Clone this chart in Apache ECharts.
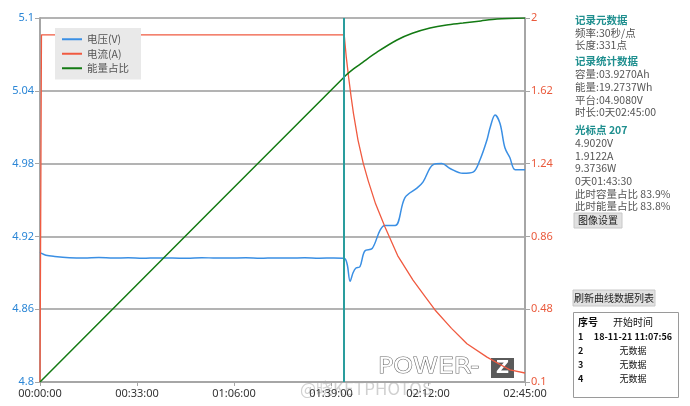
<!DOCTYPE html>
<html>
<head>
<meta charset="utf-8">
<script src="https://cdn.jsdelivr.net/npm/echarts@6/dist/echarts.min.js"></script>
<style>
  html, body { margin: 0; padding: 0; background: #fff; }
  #chart { width: 690px; height: 406px; }
</style>
</head>
<body>
<div id="chart"></div>
<script>
// time in seconds from start, 30 s/point record
var voltTimes = [0, 30, 120, 300, 600, 900, 1200, 1500, 1800, 2100, 2400, 2700, 3000, 3300, 3600, 3900, 4200, 4500, 4800, 5100, 5400, 5700, 6000, 6210,
  6270, 6330, 6390, 6450, 6530, 6630, 6780, 6940, 7040, 7250, 7450, 7700, 7820, 8020, 8200, 8370, 8630, 8840, 8980, 9120, 9190, 9290, 9390, 9490, 9590, 9700, 9900]
var voltValues = [4.907, 4.906, 4.9045, 4.9035, 4.9025, 4.9022, 4.9026, 4.9021, 4.9024, 4.9020, 4.9023, 4.9021, 4.9020, 4.9025, 4.9021, 4.9022, 4.9024, 4.9020, 4.9023, 4.9021, 4.9024, 4.9020, 4.9022, 4.9020,
  4.897, 4.883, 4.890, 4.894, 4.895, 4.908, 4.910, 4.925, 4.929, 4.929, 4.952, 4.960, 4.965, 4.979, 4.980, 4.976, 4.972, 4.973, 4.983, 4.999, 5.010, 5.020, 5.013, 4.993, 4.985, 4.975, 4.975]

var currTimes = [0, 30, 6210, 6250, 6300, 6350, 6400, 6491, 6600, 6700, 6850, 7042, 7300, 7614, 7850, 8063, 8400, 8715, 9124, 9400, 9594, 9900]
var currValues = [0.1, 1.912, 1.912, 1.80, 1.69, 1.59, 1.50, 1.363, 1.24, 1.15, 1.03, 0.909, 0.76, 0.632, 0.55, 0.476, 0.38, 0.30, 0.23, 0.19, 0.163, 0.147]

var energyTimes = [0, 6210, 6400, 6593, 6900, 7287, 7600, 7961, 8300, 8634, 9000, 9328, 9900]
var energyValues = [0, 83.8, 86.0, 87.9, 90.8, 93.96, 95.8, 97.25, 98.1, 98.6, 99.2, 99.7, 100]

var cursorTime = 6210
var xTicks = { min: 0, max: 9900, step: 1980 }

var seriesNames = ['电压(V)', '电流(A)', '能量占比']
var seriesColors = ['#3a8fe4', '#f05a40', '#137a13']

var panelLines = [
  ['记录元数据', 20, 'head'],
  ['频率:30秒/点', 33, 'body'],
  ['长度:331点', 45, 'body'],
  ['记录统计数据', 61, 'head'],
  ['容量:03.9270Ah', 74, 'body'],
  ['能量:19.2737Wh', 87, 'body'],
  ['平台:04.9080V', 100, 'body'],
  ['时长:0天02:45:00', 112, 'body'],
  ['光标点 207', 130, 'head'],
  ['4.9020V', 143, 'body'],
  ['1.9122A', 156, 'body'],
  ['9.3736W', 168, 'body'],
  ['0天01:43:30', 181, 'body'],
  ['此时容量占比 83.9%', 194, 'body'],
  ['此时能量占比 83.8%', 206, 'body']
]
var tableRows = [
  ['1', '18-11-21 11:07:56'],
  ['2', '无数据'],
  ['3', '无数据'],
  ['4', '无数据']
]

function zip(ts, vs) {
  return ts.map(function(t, i) { return [t, vs[i]] })
}
function pad(n) { return (n < 10 ? '0' : '') + n }
function fmtTime(s) {
  return pad(Math.floor(s / 3600)) + ':' + pad(Math.floor(s % 3600 / 60)) + ':' + pad(s % 60)
}
function fmtNum(v) { return String(parseFloat(v.toFixed(2))) }

var cjk = '"Noto Sans CJK SC", "Noto Sans", sans-serif'
var graphics = []

panelLines.forEach(function(l) {
  var head = l[2] === 'head'
  graphics.push({
    type: 'text', x: 575, y: l[1],
    style: { text: l[0], fill: head ? '#1f8f8f' : '#555', font: (head ? 'bold ' : '') + '10.5px ' + cjk, verticalAlign: 'middle' }
  })
})
// buttons
function button(x, y, w, h, label) {
  graphics.push({ type: 'rect', shape: { x: x, y: y, width: w, height: h }, style: { fill: '#e1e1e1', stroke: '#c8c8c8', lineWidth: 1 } })
  graphics.push({ type: 'text', x: x + w / 2, y: y + h / 2, style: { text: label, fill: '#222', font: '10px ' + cjk, align: 'center', verticalAlign: 'middle' } })
}
button(574, 213, 48, 15, '图像设置')
button(573, 290, 82, 16, '刷新曲线数据列表')
// table
graphics.push({ type: 'rect', shape: { x: 573.5, y: 312.5, width: 105, height: 85 }, style: { fill: '#fff', stroke: '#9a9a9a', lineWidth: 1 } })
graphics.push({ type: 'text', x: 578, y: 322, style: { text: '序号', fill: '#111', font: 'bold 10px ' + cjk, verticalAlign: 'middle' } })
graphics.push({ type: 'text', x: 633, y: 322, style: { text: '开始时间', fill: '#111', font: '10px ' + cjk, align: 'center', verticalAlign: 'middle' } })
tableRows.forEach(function(r, i) {
  var y = 337 + i * 14
  graphics.push({ type: 'text', x: 578, y: y, style: { text: r[0], fill: '#111', font: 'bold 9px ' + cjk, verticalAlign: 'middle' } })
  graphics.push({ type: 'text', x: 633, y: y, style: { text: r[1], fill: '#111', font: (i === 0 ? 'bold ' : '') + '9px ' + cjk, align: 'center', verticalAlign: 'middle' } })
})
// POWER-Z logo
graphics.push({ type: 'text', x: 378, y: 368, scaleX: 1.2, style: { text: 'POWER-', fill: '#fff', stroke: '#6a6a6a', lineWidth: 1, font: '21px "DejaVu Sans", sans-serif', verticalAlign: 'middle' } })
graphics.push({ type: 'rect', shape: { x: 491, y: 358, width: 23, height: 20 }, style: { fill: '#5a5a5a' } })
graphics.push({ type: 'text', x: 502.5, y: 368, style: { text: 'Z', fill: '#fff', font: 'bold 18px "DejaVu Sans", sans-serif', align: 'center', verticalAlign: 'middle' } })
// weibo watermark
graphics.push({ type: 'text', x: 300, y: 389, style: { text: '@晓KETPHOTOS', fill: 'rgba(150,150,150,0.45)', font: '17px ' + cjk, verticalAlign: 'middle' } })

var chart = echarts.init(document.getElementById('chart'))
chart.setOption({
  animation: false,
  backgroundColor: '#fff',
  grid: { left: 40, right: 165, top: 18, bottom: 24 },
  legend: {
    orient: 'vertical', left: 55, top: 28,
    backgroundColor: '#e9e9e9',
    padding: [6, 12, 6, 7],
    itemGap: 4, itemWidth: 20, itemHeight: 2,
    icon: 'rect',
    textStyle: { fontSize: 10.5, color: '#555', fontFamily: cjk },
    data: seriesNames
  },
  xAxis: {
    type: 'value', min: xTicks.min, max: xTicks.max, interval: xTicks.step,
    axisLine: { lineStyle: { color: '#a6a6a6', width: 2 } },
    axisTick: { lineStyle: { color: '#a6a6a6' }, length: 4 },
    splitLine: { show: false },
    axisLabel: { color: '#333', fontSize: 11, margin: 6, fontFamily: '"Noto Sans", sans-serif', formatter: fmtTime }
  },
  yAxis: [{
    type: 'value', position: 'left', min: 4.8, max: 5.1, interval: 0.06,
    axisLine: { show: true, lineStyle: { color: '#a6a6a6', width: 2 } },
    axisTick: { show: true, length: 5, lineStyle: { color: '#a6a6a6' } },
    splitLine: { lineStyle: { color: '#b3b3b3', width: 2 } },
    axisLabel: { color: '#2b86d6', fontSize: 11, margin: 6, fontFamily: '"Noto Sans", sans-serif', formatter: fmtNum }
  }, {
    type: 'value', position: 'right', min: 0.1, max: 2, interval: 0.38,
    axisLine: { show: true, lineStyle: { color: '#a6a6a6', width: 2 } },
    axisTick: { show: true, length: 5, lineStyle: { color: '#a6a6a6' } },
    splitLine: { show: false },
    axisLabel: { color: '#ea5a3c', fontSize: 11, margin: 6, fontFamily: '"Noto Sans", sans-serif', formatter: fmtNum }
  }, {
    type: 'value', min: 0, max: 100, show: false
  }],
  graphic: graphics,
  series: [{
    name: seriesNames[0], type: 'line', yAxisIndex: 0,
    data: zip(voltTimes, voltValues), smooth: 0.35, showSymbol: false,
    lineStyle: { color: seriesColors[0], width: 1.5 }, itemStyle: { color: seriesColors[0] },
    markLine: {
      silent: true, symbol: 'none', label: { show: false },
      lineStyle: { color: '#2a9d9d', width: 2, type: 'solid' },
      data: [{ xAxis: cursorTime }]
    }
  }, {
    name: seriesNames[1], type: 'line', yAxisIndex: 1,
    data: zip(currTimes, currValues), smooth: false, showSymbol: false,
    lineStyle: { color: seriesColors[1], width: 1.3 }, itemStyle: { color: seriesColors[1] }
  }, {
    name: seriesNames[2], type: 'line', yAxisIndex: 2,
    data: zip(energyTimes, energyValues), smooth: 0.3, showSymbol: false,
    lineStyle: { color: seriesColors[2], width: 1.5 }, itemStyle: { color: seriesColors[2] }
  }]
})
</script>
</body>
</html>
